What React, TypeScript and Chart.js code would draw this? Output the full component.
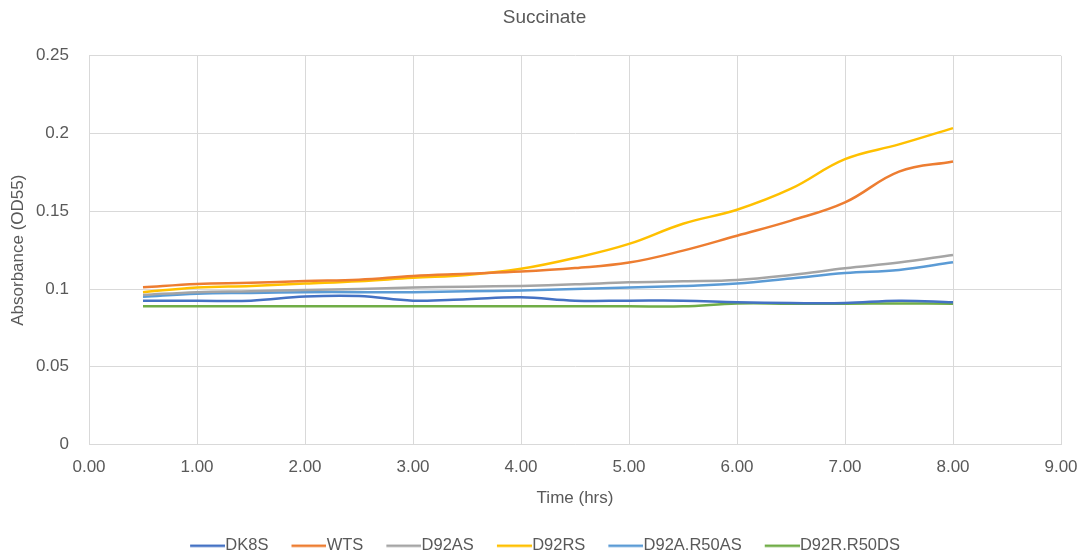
import React, { useEffect, useRef } from "react";
import { Chart, registerables } from "chart.js";

Chart.register(...registerables);

const times = [0.5, 1, 1.5, 2, 2.5, 3, 3.5, 4, 4.5, 5, 5.5, 6, 6.5, 7, 7.5, 8];
const seriesNames = ["DK8S", "WTS", "D92AS", "D92RS", "D92A.R50AS", "D92R.R50DS"];
const dk8s = [0.0925, 0.0925, 0.0925, 0.0952, 0.0955, 0.0925, 0.0935, 0.0947, 0.0925, 0.0925, 0.0925, 0.0915, 0.091, 0.091, 0.0925, 0.0915];
const wts = [0.1011, 0.1033, 0.104, 0.1052, 0.106, 0.1084, 0.1098, 0.1112, 0.1135, 0.117, 0.1247, 0.1343, 0.144, 0.1557, 0.1755, 0.182];
const d92as = [0.0962, 0.098, 0.0986, 0.0994, 0.1, 0.101, 0.1015, 0.102, 0.103, 0.1043, 0.105, 0.1058, 0.109, 0.1133, 0.117, 0.1219];
const d92rs = [0.0979, 0.101, 0.102, 0.1035, 0.105, 0.1072, 0.109, 0.113, 0.12, 0.129, 0.142, 0.151, 0.1645, 0.1835, 0.193, 0.2035];
const d92ar50as = [0.095, 0.097, 0.0975, 0.098, 0.098, 0.098, 0.0985, 0.099, 0.1, 0.101, 0.102, 0.1035, 0.1068, 0.1103, 0.1123, 0.1172];
const d92rr50ds = [0.0889, 0.0889, 0.0889, 0.0889, 0.0889, 0.0889, 0.0889, 0.0889, 0.0889, 0.0889, 0.0889, 0.0907, 0.0906, 0.0906, 0.0907, 0.0905];
const seriesColors = ["#4472C4", "#ED7D31", "#A5A5A5", "#FFC000", "#5B9BD5", "#70AD47"];
const xTicks = [0, 1, 2, 3, 4, 5, 6, 7, 8, 9];
const yTicks = [0, 0.05, 0.1, 0.15, 0.2, 0.25];

const allSeries = [dk8s, wts, d92as, d92rs, d92ar50as, d92rr50ds];

function legendMarker(color: string): HTMLCanvasElement {
  // legend swatch: a short line sitting close to the label text
  const c = document.createElement("canvas");
  c.width = 44;
  c.height = 4;
  const g = c.getContext("2d")!;
  g.strokeStyle = color;
  g.lineWidth = 2.5;
  g.beginPath();
  g.moveTo(9, 2);
  g.lineTo(44, 2);
  g.stroke();
  return c;
}

export default function App() {
  const ref = useRef<HTMLCanvasElement>(null);
  useEffect(() => {
    document.body.style.margin = "0";
    const font = "'Liberation Sans', Arial, sans-serif";
    const textColor = "#595959";
    const grid = "#d9d9d9";
    const markers = seriesColors.map(legendMarker);
    const chart = new Chart(ref.current!, {
      type: "line",
      data: {
        datasets: seriesNames.map((name, i) => ({
          label: name,
          data: times.map((t, j) => ({ x: t, y: allSeries[i][j] })),
          borderColor: seriesColors[i],
          backgroundColor: seriesColors[i],
          borderWidth: 2.5,
          pointRadius: 0,
          tension: 0.4,
          fill: false,
        })),
      },
      options: {
        animation: false,
        responsive: false,
        maintainAspectRatio: false,
        layout: { padding: { left: 28, right: 24, top: 0, bottom: -8 } },
        plugins: {
          title: {
            display: true,
            text: "Succinate",
            color: textColor,
            font: { family: font, size: 19, weight: "normal" },
            padding: { top: 6, bottom: 27 },
          },
          legend: {
            position: "bottom",
            labels: {
              color: textColor,
              font: { family: font, size: 16.5 },
              usePointStyle: true,
              pointStyleWidth: 28,
              boxWidth: 28,
              boxHeight: 4,
              padding: 22,
              generateLabels: (ch: any) => {
                const items = (Chart.defaults.plugins.legend.labels as any).generateLabels(ch);
                return items.map((it: any, i: number) => ({ ...it, pointStyle: markers[i] }));
              },
            },
          },
          tooltip: { enabled: false },
        },
        scales: {
          x: {
            type: "linear",
            min: 0,
            max: 9,
            afterBuildTicks: (axis: any) => {
              axis.ticks = xTicks.map((v) => ({ value: v }));
            },
            afterFit: (axis: any) => {
              axis.height = 71;
              axis.paddingLeft = 0;
              axis.paddingRight = 0;
            },
            ticks: {
              color: textColor,
              font: { family: font, size: 17 },
              padding: 13,
              callback: (v: any) => Number(v).toFixed(2),
              maxRotation: 0,
            },
            grid: { color: grid, drawTicks: false, lineWidth: 1 },
            border: { color: grid },
            title: {
              display: true,
              text: "Time (hrs)",
              color: textColor,
              font: { family: font, size: 17 },
              padding: { top: 7, bottom: 7 },
            },
          },
          y: {
            type: "linear",
            min: 0,
            max: 0.25,
            afterBuildTicks: (axis: any) => {
              axis.ticks = yTicks.map((v) => ({ value: v }));
            },
            afterFit: (axis: any) => {
              axis.width = 61;
            },
            ticks: {
              color: textColor,
              font: { family: font, size: 17 },
              padding: 20,
              callback: (v: any) => String(Number(v)),
            },
            grid: { color: grid, drawTicks: false, lineWidth: 1 },
            border: { color: grid },
            title: {
              display: true,
              text: "Absorbance (OD55)",
              color: textColor,
              font: { family: font, size: 17 },
              padding: { top: -20, bottom: 7 },
            },
          },
        },
      },
    } as any);
    return () => chart.destroy();
  }, []);
  return <canvas ref={ref} width={1085} height={556} style={{ display: "block" }} />;
}
